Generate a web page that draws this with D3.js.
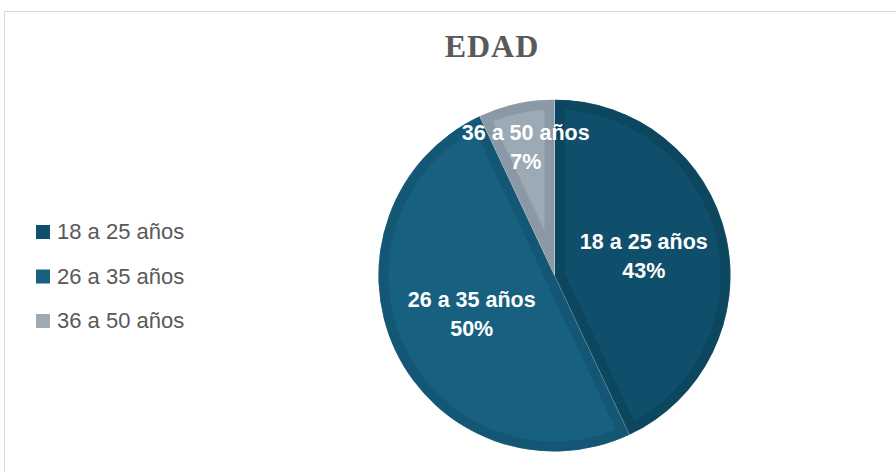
<!DOCTYPE html>
<html><head><meta charset="utf-8">
<script src="https://cdn.jsdelivr.net/npm/d3@7"></script>
<style>html,body{margin:0;padding:0;background:#fff;}svg{display:block;}</style>
</head><body>
<svg id="chart" width="896" height="472"></svg>
<script>
const title = "EDAD";
const categories = ["18 a 25 años", "26 a 35 años", "36 a 50 años"];
const values = [43, 50, 7];
const fillColors = ["#104f6b", "#17607f", "#9caab6"];
const edgeColors = ["#0c465f", "#145774", "#8b99a7"];

const svg = d3.select("#chart");
svg.append("rect").attr("x", 4.5).attr("y", 11.5).attr("width", 900).attr("height", 500)
  .attr("fill", "#fff").attr("stroke", "#d9d9d9").attr("stroke-width", 1);

svg.append("text").attr("x", 492).attr("y", 57).attr("text-anchor", "middle")
  .attr("font-family", "'Liberation Serif','Times New Roman',serif").attr("font-weight", "bold")
  .attr("font-size", 32).attr("letter-spacing", 1).attr("fill", "#595959").text(title);

const cx = 554.5, cy = 275.5, r = 176;
const data = categories.map((c, i) => ({cat: c, value: values[i], i}));
const pie = d3.pie().sort(null).value(d => d.value);
const arcs = pie(data);
const total = d3.sum(values);
const arc = d3.arc().innerRadius(0).outerRadius(r);
const g = svg.append("g").attr("transform", `translate(${cx},${cy})`);
const defs = svg.append("defs");

arcs.forEach((a, k) => {
  defs.append("clipPath").attr("id", "clip" + k).append("path").attr("d", arc(a));
  g.append("path").attr("d", arc(a)).attr("fill", fillColors[k])
    .attr("stroke", edgeColors[k]).attr("stroke-width", 20)
    .attr("stroke-linejoin", "miter")
    .attr("clip-path", `url(#clip${k})`);
});
arcs.forEach((a, k) => {
  g.append("path").attr("d", arc(a)).attr("fill", "none")
    .attr("stroke", "rgba(255,255,255,0.2)").attr("stroke-width", 0.6);
});

arcs.forEach((a, k) => {
  const share = a.data.value / total;
  const f = share < 0.1 ? 0.75 : 0.52;
  const la = d3.arc().innerRadius(r * f).outerRadius(r * f);
  const [x, y] = la.centroid(a);
  const t = g.append("text").attr("text-anchor", "middle")
    .attr("font-family", "'Liberation Sans',Arial,sans-serif").attr("font-weight", "bold")
    .attr("font-size", 21.5).attr("fill", "#fff");
  t.append("tspan").attr("x", x).attr("y", y - 7).text(a.data.cat);
  t.append("tspan").attr("x", x).attr("y", y + 22).text(Math.round(share * 100) + "%");
});

const legend = svg.append("g");
const ly = d3.scalePoint().domain(categories).range([232, 321]);
categories.forEach((c, i) => {
  legend.append("rect").attr("x", 36).attr("y", ly(c) - 7).attr("width", 14).attr("height", 14)
    .attr("fill", fillColors[i]);
  legend.append("text").attr("x", 57).attr("y", ly(c) + 7)
    .attr("font-family", "'Liberation Sans',Arial,sans-serif").attr("font-size", 22)
    .attr("fill", "#595959").text(c);
});
</script>
</body></html>
